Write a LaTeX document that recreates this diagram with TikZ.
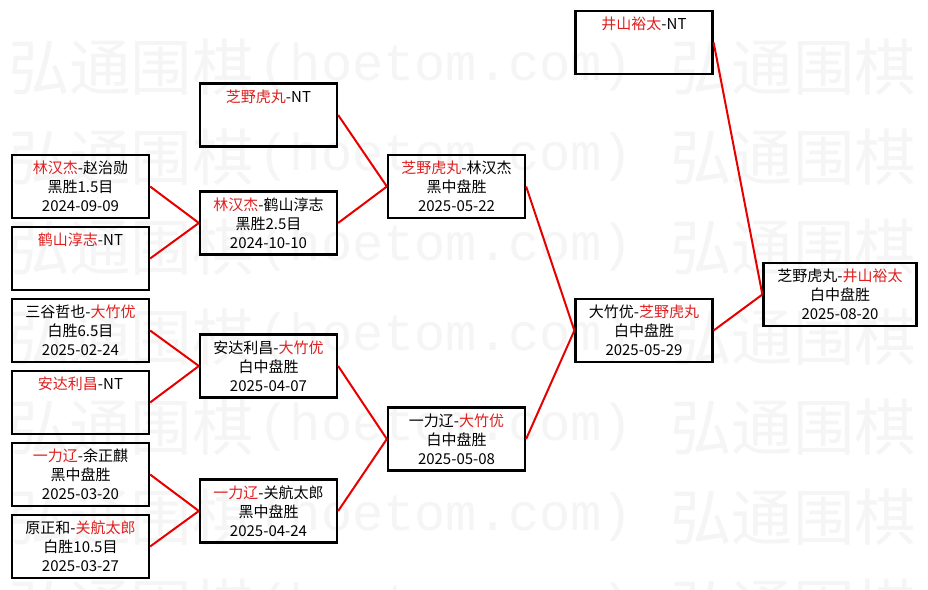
\documentclass[tikz,border=0pt]{standalone}
\usepackage{fontspec}
\setmainfont{Noto Sans CJK SC}
\newfontfamily\wmlatin{Liberation Mono}
\definecolor{winred}{RGB}{222,32,32}
\definecolor{linkred}{RGB}{232,0,0}
\newcommand{\win}[1]{\textcolor{winred}{#1}}

\begin{document}
\begin{tikzpicture}[x=0.75pt,y=0.75pt,yscale=-1,xscale=1,
  game/.style={draw=black,line width=1.7pt,minimum width=102.75pt,minimum height=47.25pt,
    inner sep=0pt,align=center,font=\fontsize{11.25pt}{14.25pt}\selectfont},
  wide/.style={minimum width=114.75pt},
  link/.style={draw=linkred,line width=1.5pt},
  wmark/.style={inner sep=0pt,text=black!4,font=\fontsize{46pt}{46pt}\selectfont}]
%set diagram size to 928 x 589
\clip (0,0) rectangle (928,589);
\fill[white] (0,0) rectangle (928,589);

%Watermark rows
\foreach \wy in {67,157,...,607}{
  \node[wmark,anchor=west] (wma\wy) at (8,\wy) {弘通围棋};
  \node[wmark,font=\wmlatin\fontsize{39pt}{39pt}\selectfont] (wmb\wy) at (446,\wy) {(hoetom.com)};
  \node[wmark,anchor=east] (wmc\wy) at (916,\wy) {弘通围棋};
}

%Shape: Rectangle, first round
\node[game] (m11) at (80.5,186.5) {\win{林汉杰}-赵治勋\\黑胜1.5目\\2024-09-09};
\node[game] (m12) at (80.5,258.5) {\win{鹤山淳志}-NT\\~\\~};
\node[game] (m13) at (80.5,330.5) {三谷哲也-\win{大竹优}\\白胜6.5目\\2025-02-24};
\node[game] (m14) at (80.5,402.5) {\win{安达利昌}-NT\\~\\~};
\node[game] (m15) at (80.5,474.5) {\win{一力辽}-余正麒\\黑中盘胜\\2025-03-20};
\node[game] (m16) at (80.5,546.5) {原正和-\win{关航太郎}\\白胜10.5目\\2025-03-27};
%Shape: Rectangle, second round
\node[game] (m21) at (268.5,115) {\win{芝野虎丸}-NT\\~\\~};
\node[game] (m22) at (268.5,223) {\win{林汉杰}-鹤山淳志\\黑胜2.5目\\2024-10-10};
\node[game] (m23) at (268.5,366) {安达利昌-\win{大竹优}\\白中盘胜\\2025-04-07};
\node[game] (m24) at (268.5,511) {\win{一力辽}-关航太郎\\黑中盘胜\\2025-04-24};
%Shape: Rectangle, third round
\node[game] (m31) at (456.5,186.5) {\win{芝野虎丸}-林汉杰\\黑中盘胜\\2025-05-22};
\node[game] (m32) at (456.5,439) {一力辽-\win{大竹优}\\白中盘胜\\2025-05-08};
%Shape: Rectangle, fourth round
\node[game] (m41) at (644,42.5) {\win{井山裕太}-NT\\~\\~};
\node[game] (m42) at (644,330.5) {大竹优-\win{芝野虎丸}\\白中盘胜\\2025-05-29};
%Shape: Rectangle, final
\node[game,wide] (m51) at (840,294.5) {芝野虎丸-\win{井山裕太}\\白中盘胜\\2025-08-20};

%Straight Lines
\draw[link] (m11.east) -- (m22.west);
\draw[link] (m12.east) -- (m22.west);
\draw[link] (m13.east) -- (m23.west);
\draw[link] (m14.east) -- (m23.west);
\draw[link] (m15.east) -- (m24.west);
\draw[link] (m16.east) -- (m24.west);
\draw[link] (m21.east) -- (m31.west);
\draw[link] (m22.east) -- (m31.west);
\draw[link] (m23.east) -- (m32.west);
\draw[link] (m24.east) -- (m32.west);
\draw[link] (m31.east) -- (m42.west);
\draw[link] (m32.east) -- (m42.west);
\draw[link] (m41.east) -- (m51.west);
\draw[link] (m42.east) -- (m51.west);

\end{tikzpicture}
\end{document}
